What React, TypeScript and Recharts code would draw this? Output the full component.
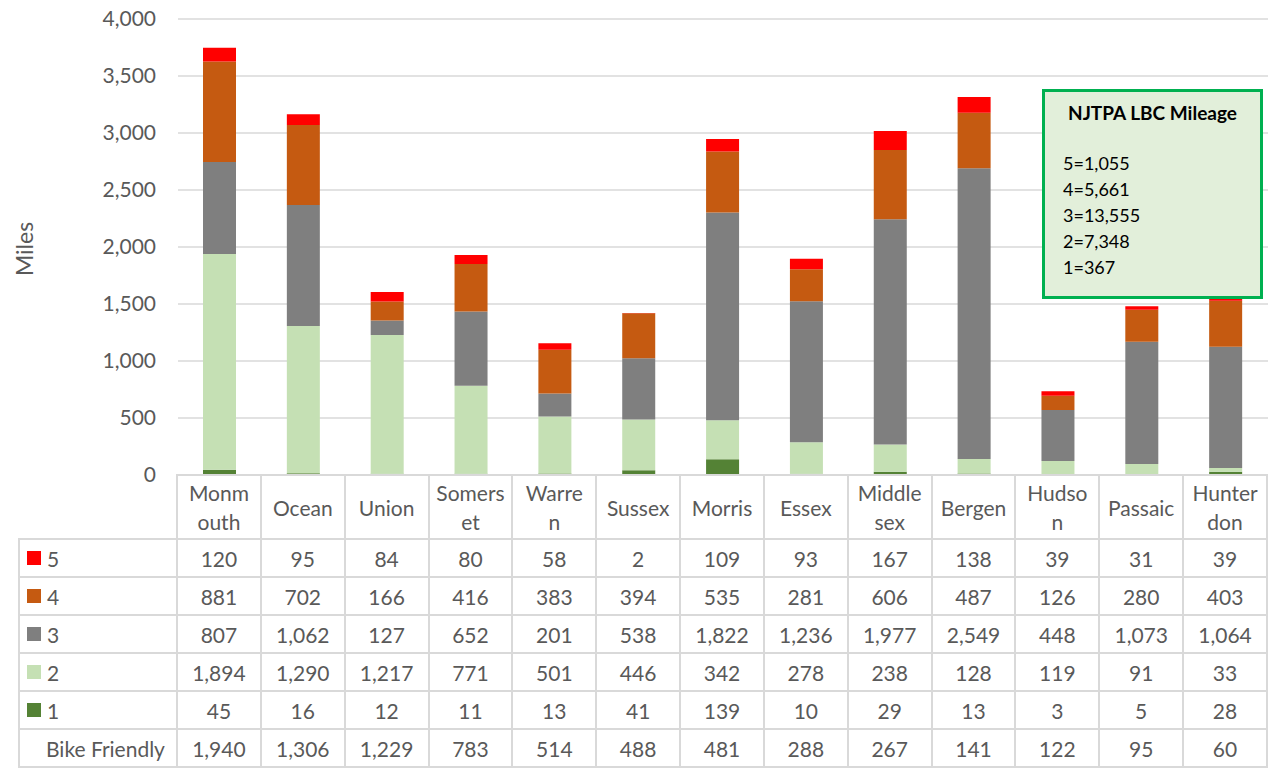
import React from 'react';
import { BarChart, Bar, XAxis, YAxis, CartesianGrid } from 'recharts';

const counties = ['Monmouth', 'Ocean', 'Union', 'Somerset', 'Warren', 'Sussex', 'Morris', 'Essex', 'Middlesex', 'Bergen', 'Hudson', 'Passaic', 'Hunterdon'];
// header labels as they wrap in the table
const headerLabels = [['Monm', 'outh'], ['Ocean'], ['Union'], ['Somers', 'et'], ['Warre', 'n'], ['Sussex'], ['Morris'], ['Essex'], ['Middle', 'sex'], ['Bergen'], ['Hudso', 'n'], ['Passaic'], ['Hunter', 'don']];

const level1 = [45, 16, 12, 11, 13, 41, 139, 10, 29, 13, 3, 5, 28];
const level2 = [1894, 1290, 1217, 771, 501, 446, 342, 278, 238, 128, 119, 91, 33];
const level3 = [807, 1062, 127, 652, 201, 538, 1822, 1236, 1977, 2549, 448, 1073, 1064];
const level4 = [881, 702, 166, 416, 383, 394, 535, 281, 606, 487, 126, 280, 403];
const level5 = [120, 95, 84, 80, 58, 2, 109, 93, 167, 138, 39, 31, 39];
const bikeFriendly = [1940, 1306, 1229, 783, 514, 488, 481, 288, 267, 141, 122, 95, 60];

const yTicks = [0, 500, 1000, 1500, 2000, 2500, 3000, 3500, 4000];

const lbcTitle = 'NJTPA LBC Mileage';
const lbcLines = ['5=1,055', '4=5,661', '3=13,555', '2=7,348', '1=367'];

const series = [
  { key: 'l5', name: '5', color: '#FF0000', values: level5 },
  { key: 'l4', name: '4', color: '#C55A11', values: level4 },
  { key: 'l3', name: '3', color: '#7F7F7F', values: level3 },
  { key: 'l2', name: '2', color: '#C5E0B4', values: level2 },
  { key: 'l1', name: '1', color: '#548235', values: level1 },
];

const data = counties.map((c, i) => ({
  county: c,
  l1: level1[i],
  l2: level2[i],
  l3: level3[i],
  l4: level4[i],
  l5: level5[i],
}));

const FONT = 'Lato, "Open Sans", sans-serif';
const TEXT = '#595959';
const GRID = '#d9d9d9';
const fmt = (v: number) => v.toLocaleString('en-US');

const W = 1272;
const H = 769;
const PLOT_LEFT = 178;
const PLOT_RIGHT = 1268;
const PLOT_TOP = 19;
const PLOT_BOTTOM = 475;
const COL_W = (PLOT_RIGHT - PLOT_LEFT) / counties.length;

const cellBase: React.CSSProperties = {
  boxSizing: 'border-box',
  borderRight: `2px solid ${GRID}`,
  borderBottom: `2px solid ${GRID}`,
  display: 'flex',
  alignItems: 'center',
  justifyContent: 'center',
  color: TEXT,
  fontSize: 21,
};

const DataTable = () => {
  const cells: React.ReactNode[] = [];
  cells.push(<div key="corner" style={{ ...cellBase }} />);
  headerLabels.forEach((lines, i) => {
    cells.push(
      <div key={'h' + i} style={{ ...cellBase, borderTop: `2px solid ${GRID}`, flexDirection: 'column', lineHeight: '29px', textAlign: 'center' }}>
        {lines.map((l, j) => <span key={j}>{l}</span>)}
      </div>
    );
  });
  series.forEach((s) => {
    cells.push(
      <div key={'lab' + s.key} style={{ ...cellBase, borderLeft: `2px solid ${GRID}`, justifyContent: 'flex-start', paddingLeft: 7 }}>
        <span style={{ display: 'inline-block', width: 14, height: 14, background: s.color, marginRight: 6 }} />
        {s.name}
      </div>
    );
    s.values.forEach((v, i) => {
      cells.push(<div key={s.key + i} style={cellBase}>{fmt(v)}</div>);
    });
  });
  cells.push(
    <div key="labbf" style={{ ...cellBase, borderLeft: `2px solid ${GRID}`, justifyContent: 'flex-start', paddingLeft: 26 }}>
      Bike Friendly
    </div>
  );
  bikeFriendly.forEach((v, i) => {
    cells.push(<div key={'bf' + i} style={cellBase}>{fmt(v)}</div>);
  });

  return (
    <div
      style={{
        position: 'absolute',
        left: 18,
        top: PLOT_BOTTOM - 1,
        display: 'grid',
        gridTemplateColumns: `${PLOT_LEFT - 18}px repeat(${counties.length}, ${COL_W}px)`,
        gridTemplateRows: `66px repeat(6, 38px)`,
        fontFamily: FONT,
      }}
    >
      {cells}
    </div>
  );
};

export default function App() {
  return (
    <div style={{ position: 'absolute', left: 0, top: 0, width: W, height: H, background: '#fff', fontFamily: FONT, overflow: 'hidden' }}>
      <BarChart
        width={W}
        height={H}
        data={data}
        margin={{ top: PLOT_TOP, right: W - PLOT_RIGHT, bottom: H - PLOT_BOTTOM, left: 0 }}
        barSize={33}
      >
        <CartesianGrid vertical={false} stroke={GRID} strokeWidth={1.5} />
        <XAxis dataKey="county" hide />
        <YAxis
          width={PLOT_LEFT}
          domain={[0, 4000]}
          ticks={yTicks}
          tickFormatter={fmt}
          axisLine={false}
          tickLine={false}
          tickSize={0}
          tickMargin={22}
          tick={{ fill: TEXT, fontSize: 21, fontFamily: FONT }}
        />
        <Bar dataKey="l1" stackId="a" fill="#548235" isAnimationActive={false} />
        <Bar dataKey="l2" stackId="a" fill="#C5E0B4" isAnimationActive={false} />
        <Bar dataKey="l3" stackId="a" fill="#7F7F7F" isAnimationActive={false} />
        <Bar dataKey="l4" stackId="a" fill="#C55A11" isAnimationActive={false} />
        <Bar dataKey="l5" stackId="a" fill="#FF0000" isAnimationActive={false} />
      </BarChart>

      <div
        style={{
          position: 'absolute',
          left: 24,
          top: 249,
          transform: 'translate(-50%, -50%) rotate(-90deg)',
          color: TEXT,
          fontSize: 23,
        }}
      >
        Miles
      </div>

      <div
        style={{
          position: 'absolute',
          left: 1042,
          top: 89,
          width: 221,
          height: 210,
          boxSizing: 'border-box',
          border: '3px solid #00B050',
          background: '#E2EFDA',
          color: '#000',
          fontFamily: FONT,
        }}
      >
        <div style={{ textAlign: 'center', fontWeight: 'bold', fontSize: 19, marginTop: 9 }}>{lbcTitle}</div>
        <div style={{ marginTop: 26, marginLeft: 18, fontSize: 18, lineHeight: '26px' }}>
          {lbcLines.map((l) => (
            <div key={l}>{l}</div>
          ))}
        </div>
      </div>

      <DataTable />
    </div>
  );
}
